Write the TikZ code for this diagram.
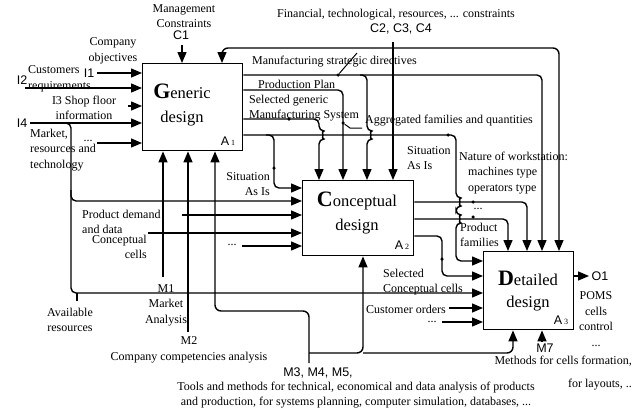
\documentclass[tikz,border=0pt]{standalone}
\usepackage{fontspec}
\setmainfont{Liberation Serif}
\newfontfamily\arialfont{Liberation Sans}
\usetikzlibrary{arrows.meta,positioning,calc}

\tikzset{
  wire/.style={line width=1.4pt},
  flow/.style={wire,-{Triangle[length=11pt,width=9pt]}},
  flowboth/.style={wire,{Triangle[length=11pt,width=9pt]}-{Triangle[length=11pt,width=9pt]}},
  idef/.style={draw,line width=1.4pt,anchor=north west,inner sep=0pt},
  boxtitle/.style={font=\fontsize{16.5}{24}\selectfont,align=center,inner sep=0pt},
  lab/.style={font=\fontsize{12}{15.5}\selectfont,inner sep=0pt},
  code/.style={font=\arialfont\fontsize{12.5}{14}\selectfont,inner sep=0pt},
  jdot/.style={circle,fill,inner sep=0pt,minimum size=3.5pt},
}

\begin{document}
\begin{tikzpicture}[x=1pt,y=-1pt]
  \useasboundingbox (0,0) rectangle (643,410);
  % the three activity boxes
  \node[idef,minimum width=100pt,minimum height=87pt] (A1) at (142,63) {};
  \node[idef,minimum width=111pt,minimum height=75pt] (A2) at (302,180) {};
  \node[idef,minimum width=90pt,minimum height=78pt] (A3) at (483,251) {};
  \node[boxtitle] (tA1) at (182,105) {{\fontsize{22}{22}\selectfont\bfseries G}eneric\\design};
  \node[boxtitle] (tA2) at (357,213) {{\fontsize{22}{22}\selectfont\bfseries C}onceptual\\design};
  \node[boxtitle,font=\fontsize{16.5}{22}\selectfont] (tA3) at (528,291) {{\fontsize{22}{22}\selectfont\bfseries D}etailed\\design};
  \node[code] (nA1) at (228,141) {A\,{\fontsize{8}{8}\selectfont\rmfamily 1}};
  \node[code] (nA2) at (402,245) {A\,{\fontsize{8}{8}\selectfont\rmfamily 2}};
  \node[code] (nA3) at (561,320) {A\,{\fontsize{8}{8}\selectfont\rmfamily 3}};

  % inputs of A1
  \foreach \n/\x/\y in {i1/97/73, i2/25/88, i3/128/106, i4/30/123, i5/97/143}{
    \coordinate (\n) at (\x,\y);
    \draw[flow] (\n) -- (A1.west |- \n);
  }
  % market/resources branch down to A2 and A3
  \draw[flow,rounded corners=5pt] (62,123) -- (71,123) -- (71,293) -- (A3.west |- 0,293);
  \draw[flow,rounded corners=5pt] (71,190) -- (71,201) -- (A2.west |- 0,201);
  \draw[wire] (77,293) -- (77,301);
  % other inputs of A2 and A3
  \foreach \n/\x/\y in {j1/182/215, j2/148/233, j3/242/246}{
    \coordinate (\n) at (\x,\y);
    \draw[flow] (\n) -- (A2.west |- \n);
  }
  \foreach \n/\x/\y in {k1/449/308, k2/442/322}{
    \coordinate (\n) at (\x,\y);
    \draw[flow] (\n) -- (A3.west |- \n);
  }

  % controls
  \coordinate (c1) at (182,45);
  \draw[flow] (c1) -- (A1.north -| c1);
  \coordinate (c24) at (393,42);
  \draw[flow] (c24) -- (A2.north -| c24);
  \draw[flowboth,rounded corners=6pt] (A1.north -| 222,0) -- (222,48) -- (559,48) -- (A3.north -| 559,0);

  % outputs of A1
  \draw[flow,rounded corners=5pt] (A1.east |- 0,75) -| (A3.north -| 542,0);
  \draw[flow,rounded corners=5pt] (360,75) -- (367,75) -- (367,131)
    arc[start angle=90,end angle=-90,radius=4pt] -- (A2.north -| 367,0);
  \draw[flow,rounded corners=5pt] (A1.east |- 0,90) -| (A2.north -| 343,0);
  \draw[flow,rounded corners=5pt] (A1.east |- 0,119) -- (319,119) -- (319,131)
    arc[start angle=90,end angle=-90,radius=4pt] -- (A2.north -| 319,0);
  \draw[flow,rounded corners=5pt] (A1.east |- 0,135) -- (456,135) -- (456,198)
    arc[start angle=90,end angle=-90,radius=4pt] -- (456,215)
    arc[start angle=90,end angle=-90,radius=4pt] -- (456,261) -- (A3.west |- 0,261);
  \draw[flow,rounded corners=5pt] (266,135) -- (274,135) -- (274,188) -- (A2.west |- 0,188);

  % outputs of A2
  \draw[flow,rounded corners=5pt] (A2.east |- 0,202) -| (A3.north -| 527,0);
  \draw[flow,rounded corners=5pt] (A2.east |- 0,219) -| (A3.north -| 508,0);
  \draw[flow,rounded corners=5pt] (A2.east |- 0,236) -- (442,236) -- (442,276) -- (A3.west |- 0,276);

  % output of A3
  \coordinate (o1) at (589,276);
  \draw[flow] (A3.east |- o1) -- (o1);

  % mechanisms
  \coordinate (m1) at (163,277);
  \draw[flow] (m1) -- (A1.south -| m1);
  \coordinate (m2) at (188,332);
  \draw[flow] (m2) -- (A1.south -| m2);
  \coordinate (m3) at (309,363);
  \draw[flow,rounded corners=6pt] (m3) -- (309,311) -- (215,311) -- (A1.south -| 215,0);
  \draw[flow,rounded corners=6pt] (309,353) -- (363,353) -- (A2.south -| 363,0);
  \draw[flow,rounded corners=6pt] (363,353) -- (513,353) -- (A3.south -| 513,0);
  \coordinate (m7) at (542,341);
  \draw[flow] (m7) -- (A3.south -| m7);

  % junction dots and label ties
  \node[jdot] (d1) at (338,75) {};
  \coordinate (d1e) at (357,53);
  \draw[wire,line width=1pt] (d1) -- (d1e);
  \node[jdot] (d2) at (289,119) {};
  \node[jdot] (d3) at (343,123) {};
  \draw[wire,line width=1pt] (d3) -- (350,128) -- (362,128);
  \node[jdot] (d4) at (448,135) {};
  \node[jdot] (d5) at (274,168) {};
  \node[jdot] (d6) at (473,202) {};
  \node[jdot] (d7) at (473,217) {};
  \node[jdot] (d8) at (442,259) {};

  % labels
  \node[lab,align=center,font=\fontsize{12}{14.5}\selectfont] (lmgmt) at (184,16) {Management\\Constraints};
  \node[code] (lc1) at (181,35.5) {C1};
  \node[lab] (lfin) at (396,15) {Financial, technological, resources, ... constraints};
  \node[code] (lc24) at (401,29) {C2, C3, C4};
  \node[lab,align=center] (lobj) at (113,51) {Company\\objectives};
  \node[code] (li1) at (89,73) {I1};
  \node[code] (li2) at (22,80) {I2};
  \node[lab,align=left,anchor=west] (lcust) at (28,79) {Customers\\requirements};
  \node[lab,align=center] (lshop) at (84,108) {I3 Shop floor\\information};
  \node[code] (li4) at (22,123) {I4};
  \node[lab,align=left,anchor=west] (lmkt) at (30,150) {Market,\\resources and\\technology};
  \node[lab] (ldots1) at (88,141) {...};
  \node[lab,align=left,anchor=west] (lmsd) at (252,62) {Manufacturing strategic directives};
  \node[lab,anchor=west] (lpp) at (258,84) {Production Plan};
  \node[lab,align=left,anchor=west] (lsgm) at (249,108) {Selected generic\\Manufacturing System};
  \node[lab,anchor=west] (lagg) at (365,121) {Aggregated families and quantities};
  \node[lab,align=right,anchor=east] (lsit1) at (270,184) {Situation\\As Is};
  \node[lab,align=left,anchor=west] (lsit2) at (407,158) {Situation\\As Is};
  \node[lab,align=left,anchor=west] (lnat) at (459,173) {Nature of workstation:\\\hspace*{9pt}machines type\\\hspace*{9pt}operators type};
  \node[lab] (ldots2) at (478,209) {...};
  \node[lab,align=left,anchor=west] (lpf) at (460,235) {Product\\families};
  \node[lab,align=left,anchor=west] (lpd) at (82,222) {Product demand\\and data};
  \node[lab,align=right,anchor=east] (lcc) at (147,247) {Conceptual\\cells};
  \node[lab] (ldots3) at (232,245) {...};
  \node[lab,align=left,anchor=west] (lscc) at (383,282) {Selected\\Conceptual cells};
  \node[lab,anchor=west] (lco) at (366,309) {Customer orders};
  \node[lab] (ldots4) at (432,322) {...};
  \node[lab,align=center] (lavail) at (70,320) {Available\\resources};
  \node[lab,align=center] (lm1) at (166,305) {M1\\Market\\Analysis};
  \node[lab,align=center] (lm2) at (189,350) {M2\\Company competencies analysis};
  \node[code] (lm35) at (318,373) {M3, M4, M5,};
  \node[lab,align=center] (ltools) at (356,395) {Tools and methods for technical, economical and data analysis of products\\and production, for systems planning, computer simulation, databases, ...};
  \node[code] (lm7) at (545,348) {M7};
  \node[lab,align=right,anchor=east] (lmeth) at (632,373) {Methods for cells formation,\\[7pt]for layouts, ..};
  \node[code] (lo1) at (600,276) {O1};
  \node[lab,align=center] (lpoms) at (596,319) {POMS\\cells\\control\\...};
\end{tikzpicture}
\end{document}
